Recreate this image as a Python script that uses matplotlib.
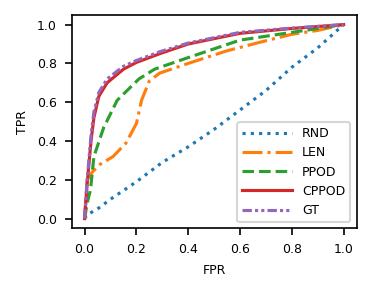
import numpy as np
import matplotlib.pyplot as plt

# ROC points
rnd_fpr = [0.0, 0.01, 0.05, 0.1, 0.2, 0.3, 0.4, 0.5, 0.6, 0.7, 0.8, 0.9, 1.0]
rnd_tpr = [0.0, 0.02, 0.05, 0.1, 0.19, 0.29, 0.37, 0.46, 0.56, 0.66, 0.78, 0.88, 1.0]

len_fpr = [0.0, 0.01, 0.03, 0.06, 0.11, 0.16, 0.2, 0.22, 0.25, 0.29, 0.4, 0.55, 0.68, 0.8, 0.9, 1.0]
len_tpr = [0.0, 0.2, 0.24, 0.28, 0.32, 0.39, 0.49, 0.61, 0.71, 0.75, 0.8, 0.865, 0.91, 0.95, 0.97, 1.0]

ppod_fpr = [0.0, 0.01, 0.023, 0.036, 0.074, 0.126, 0.164, 0.21, 0.27, 0.4, 0.6, 0.8, 1.0]
ppod_tpr = [0.0, 0.08, 0.15, 0.32, 0.47, 0.61, 0.66, 0.72, 0.77, 0.83, 0.92, 0.96, 1.0]

cppod_fpr = [0.0, 0.01, 0.025, 0.036, 0.055, 0.087, 0.15, 0.2, 0.29, 0.4, 0.6, 0.8, 1.0]
cppod_tpr = [0.0, 0.18, 0.4, 0.52, 0.63, 0.70, 0.77, 0.805, 0.85, 0.90, 0.955, 0.98, 1.0]

gt_fpr = [0.0, 0.01, 0.025, 0.036, 0.055, 0.087, 0.15, 0.2, 0.29, 0.4, 0.6, 0.8, 1.0]
gt_tpr = [0.0, 0.2, 0.43, 0.55, 0.65, 0.72, 0.785, 0.815, 0.86, 0.905, 0.96, 0.982, 1.0]

plt.rcParams['font.size'] = 6

fig = plt.figure(figsize=(373 / 150, 292 / 150), dpi=150)
ax = fig.add_axes([0.192, 0.218, 0.764, 0.731])

ax.plot(rnd_fpr, rnd_tpr, ':', color='tab:blue', label='RND')
ax.plot(len_fpr, len_tpr, '-.', color='tab:orange', label='LEN')
ax.plot(ppod_fpr, ppod_tpr, '--', color='tab:green', label='PPOD')
ax.plot(cppod_fpr, cppod_tpr, '-', color='tab:red', label='CPPOD')
ax.plot(gt_fpr, gt_tpr, linestyle=(0, (3, 1, 1, 1, 1, 1)), color='tab:purple', label='GT')

ax.set_xlabel('FPR')
ax.set_ylabel('TPR')
ax.set_xticks(np.arange(0, 1.01, 0.2))
ax.set_yticks(np.arange(0, 1.01, 0.2))
ax.legend(loc='lower right', handlelength=4)

fig.savefig('out.png', dpi=150)
